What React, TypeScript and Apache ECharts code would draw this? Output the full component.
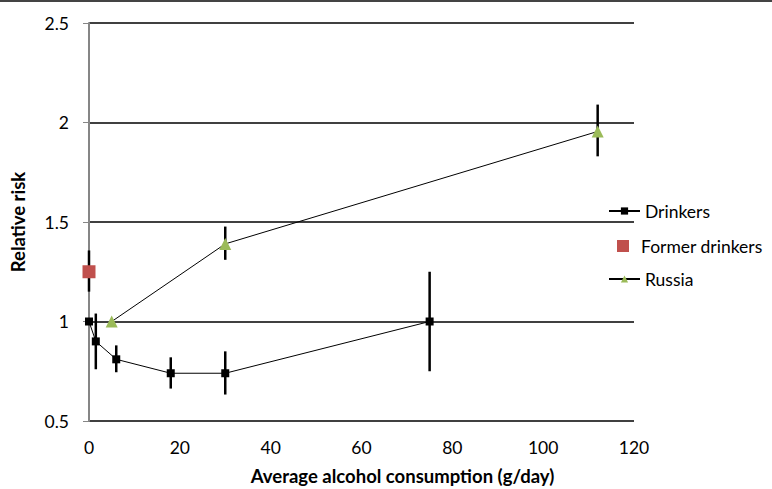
import React, { useEffect, useRef } from "react";
import * as echarts from "echarts";

const drinkersX = [0, 1.5, 6, 18, 30, 75];
const drinkersY = [1.0, 0.9, 0.81, 0.74, 0.74, 1.0];
const drinkersLow = [1.0, 0.76, 0.745, 0.663, 0.633, 0.75];
const drinkersHigh = [1.0, 1.04, 0.88, 0.82, 0.85, 1.25];

const formerX = [0];
const formerY = [1.25];
const formerLow = [1.15];
const formerHigh = [1.357];

const russiaX = [5, 30, 112];
const russiaY = [1.0, 1.39, 1.955];
const russiaLow = [1.0, 1.31, 1.83];
const russiaHigh = [1.0, 1.477, 2.09];

const FONT = "Lato, 'Open Sans', sans-serif";
const LEGEND_FS = 17.5;

export default function App() {
  const ref = useRef<HTMLDivElement>(null);
  useEffect(() => {
    if (!ref.current) return;
    const chart = echarts.init(ref.current, null, { renderer: "svg" });
    const errData: number[][] = [];
    drinkersX.forEach((x, i) => {
      if (drinkersHigh[i] !== drinkersLow[i]) errData.push([x, drinkersLow[i], drinkersHigh[i]]);
    });
    formerX.forEach((x, i) => errData.push([x, formerLow[i], formerHigh[i]]));
    russiaX.forEach((x, i) => {
      if (russiaHigh[i] !== russiaLow[i]) errData.push([x, russiaLow[i], russiaHigh[i]]);
    });
    const legendText = { fontSize: LEGEND_FS, color: "#000", fontFamily: FONT };
    chart.setOption({
      animation: false,
      textStyle: { fontFamily: FONT },
      grid: {
        left: 89,
        right: 138,
        top: 23,
        bottom: 68,
        containLabel: false,
        outerBoundsMode: "none",
      },
      graphic: [
        {
          type: "line",
          shape: { x1: 0, y1: 1, x2: 772, y2: 1 },
          style: { stroke: "#444", lineWidth: 2 },
        },
      ],
      legend: [
        {
          left: 608,
          top: 202,
          padding: 0,
          itemWidth: 31,
          itemHeight: 9,
          itemGap: 0,
          textStyle: legendText,
          data: ["Drinkers"],
        },
        {
          left: 617,
          top: 237,
          padding: 0,
          itemWidth: 12,
          itemHeight: 12,
          itemGap: 0,
          textStyle: { ...legendText, padding: [0, 0, 0, 7] },
          data: [{ name: "Former drinkers", icon: "rect" }],
        },
        {
          left: 608,
          top: 270,
          padding: 0,
          itemWidth: 31,
          itemHeight: 9,
          itemGap: 0,
          textStyle: legendText,
          data: ["Russia"],
        },
      ],
      xAxis: {
        type: "value",
        min: 0,
        max: 120,
        interval: 20,
        name: "Average alcohol consumption (g/day)",
        nameLocation: "middle",
        nameGap: 45,
        nameTextStyle: {
          fontSize: 18.5,
          fontWeight: "bold",
          color: "#000",
          fontFamily: FONT,
          padding: [0, 0, 0, 82],
        },
        axisLine: { show: false },
        axisTick: { show: false },
        splitLine: { show: false },
        axisLabel: { fontSize: 17.5, color: "#000", margin: 17, fontFamily: FONT },
      },
      yAxis: {
        type: "value",
        min: 0.5,
        max: 2.5,
        interval: 0.5,
        name: "Relative risk",
        nameLocation: "middle",
        nameGap: 62,
        nameTextStyle: { fontSize: 18.5, fontWeight: "bold", color: "#000", fontFamily: FONT },
        axisLine: { show: true, lineStyle: { color: "#868686", width: 2 } },
        axisTick: { show: true, length: 6, lineStyle: { color: "#868686", width: 1 } },
        splitLine: { show: true, lineStyle: { color: "#000", width: 1.5 } },
        axisLabel: { fontSize: 17.5, color: "#000", margin: 20, fontFamily: FONT },
      },
      series: [
        {
          type: "custom",
          name: "errors",
          z: 1,
          data: errData,
          encode: { x: 0, y: [1, 2] },
          renderItem: (params: any, api: any) => {
            const x = api.value(0);
            const a = api.coord([x, api.value(1)]);
            const b = api.coord([x, api.value(2)]);
            return {
              type: "line",
              shape: { x1: a[0], y1: a[1], x2: b[0], y2: b[1] },
              style: { stroke: "#000", lineWidth: 2.5 },
            };
          },
        },
        {
          type: "line",
          name: "Drinkers",
          z: 3,
          data: drinkersX.map((x, i) => [x, drinkersY[i]]),
          symbol: "rect",
          symbolSize: 8,
          lineStyle: { color: "#000", width: 1 },
          itemStyle: { color: "#000" },
        },
        {
          type: "scatter",
          name: "Former drinkers",
          z: 3,
          data: formerX.map((x, i) => [x, formerY[i]]),
          symbol: "rect",
          symbolSize: 13,
          itemStyle: { color: "#C0504D", opacity: 1 },
        },
        {
          type: "line",
          name: "Russia",
          z: 3,
          data: russiaX.map((x, i) => [x, russiaY[i]]),
          symbol: "triangle",
          symbolSize: 12,
          lineStyle: { color: "#000", width: 1 },
          itemStyle: { color: "#9BBB59" },
        },
      ],
    });
    return () => chart.dispose();
  }, []);
  return (
    <div
      ref={ref}
      style={{ position: "absolute", left: 0, top: 0, width: 772, height: 489 }}
    />
  );
}
